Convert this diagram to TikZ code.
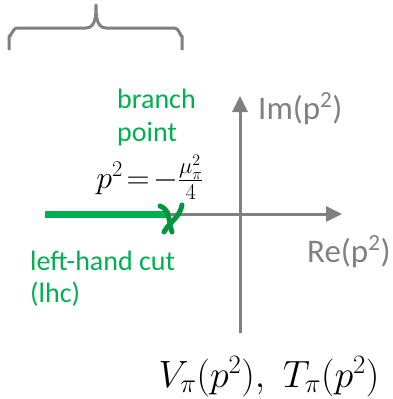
\documentclass[tikz,border=0pt]{standalone}
\usepackage{fix-cm}
\usepackage{fontspec}
\newfontfamily\calibri{Carlito}
\usetikzlibrary{arrows.meta}
\definecolor{axgray}{RGB}{128,128,128}
\definecolor{cutgreen}{RGB}{0,176,80}
\definecolor{markgreen}{RGB}{0,150,64}
\tikzset{
  axis/.style={draw=axgray, line width=3pt, -{Triangle[length=16pt,width=15pt]}},
  greenlbl/.style={text=cutgreen, font=\calibri\fontsize{28}{33}\selectfont, inner sep=0pt, anchor=base west},
  graylbl/.style={text=axgray, font=\calibri\fontsize{33}{36}\selectfont, inner sep=0pt, anchor=base west},
  mathlbl/.style={inner sep=0pt, anchor=base}
}
\begin{document}
\begin{tikzpicture}[x=1pt,y=-1pt]
\useasboundingbox (0,0) rectangle (392,399);
% brace
\draw[axgray, line width=3pt, line join=round]
  (9,50) -- (9,36) to[out=-90,in=180] (17,28) -- (86,28) to[out=0,in=-90] (96,5)
  to[out=-90,in=180] (106,28) -- (175,28) to[out=0,in=-90] (182,36) -- (182,50);
% axes
\coordinate (vbot) at (240,333);
\coordinate (vtop) at (240,96);
\coordinate (hleft) at (165,214);
\coordinate (hright) at (342,214);
\draw[axis] (vbot) -- (vtop);
\draw[axis] (hleft) -- (hright);
% cut
\coordinate (cutstart) at (45,214);
\coordinate (bp) at (170,214);
\draw[cutgreen, line width=7pt] (cutstart) -- (bp);
% branch point mark
\draw[markgreen, line width=5pt, line cap=round]
  (160,206) to[out=-20,in=110] (172,232);
\draw[markgreen, line width=5pt, line cap=round]
  (182,205) to[out=-100,in=60] (164,232);
% labels
\node[greenlbl] (branch) at (117,108) {branch};
\node[greenlbl] (point) at (117,141) {point};
\node[mathlbl, font=\fontsize{32}{34}\selectfont] (bpeq) at (150,188) {$p^2\!=\!-\frac{\mu_\pi^2}{4}$};
\node[graylbl] (im) at (258,119) {Im(p\textsuperscript{2})};
\node[graylbl] (re) at (307,262) {Re(p\textsuperscript{2})};
\node[greenlbl] (lhc1) at (30,270) {left-hand cut};
\node[greenlbl] (lhc2) at (30,302) {(lhc)};
\node[mathlbl, font=\fontsize{38}{40}\selectfont] (vt) at (269,387) {$V_\pi(p^2),\ T_\pi(p^2)$};
\end{tikzpicture}
\end{document}
